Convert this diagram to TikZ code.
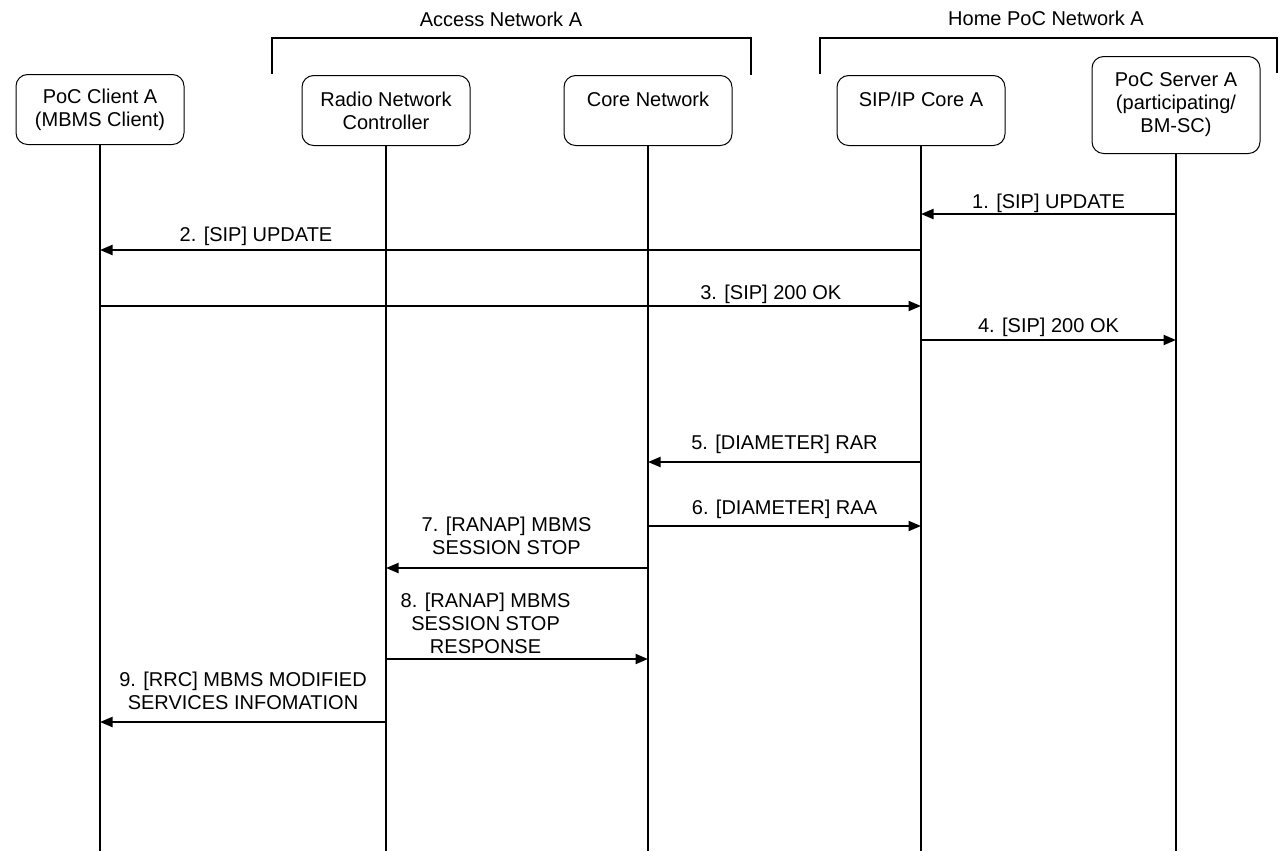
\documentclass[tikz,border=0pt]{standalone}
\usepackage{fontspec}
\setmainfont{Liberation Sans}
\usetikzlibrary{arrows.meta}
\begin{document}
\begin{tikzpicture}[x=0.6pt, y=-0.6pt, font=\fontsize{12pt}{13.8pt}\selectfont]
  \tikzstyle{entity}=[draw, rounded corners=7pt, line width=0.6pt, minimum width=100.8pt, minimum height=42pt, align=center, inner sep=2pt, anchor=north]
  \tikzstyle{life}=[line width=0.8pt]
  \tikzstyle{net}=[line width=0.8pt]
  \tikzstyle{msg}=[line width=1.2pt, -{Triangle[length=7.5pt, width=6pt]}]
  \tikzstyle{lbl}=[inner sep=0pt, align=center, text depth=0pt]

  \useasboundingbox (0,0) rectangle (1285,851);

  \node[entity] (ue)  at (100, 74) {PoC Client A\\(MBMS Client)};
  \node[entity] (rnc) at (386, 75) {Radio Network\\Controller};
  \node[entity] (cn)  at (648, 75) {Core Network\\\mbox{}};
  \node[entity] (sip) at (921, 75) {SIP/IP Core A\\\mbox{}};
  \node[entity, minimum height=58.2pt] (srv) at (1176, 56) {PoC Server A\\(participating/\\BM-SC)};

  \coordinate (bottom) at (0, 851);
  \draw[life] (ue)  -- (ue  |- bottom);
  \draw[life] (rnc) -- (rnc |- bottom);
  \draw[life] (cn)  -- (cn  |- bottom);
  \draw[life] (sip) -- (sip |- bottom);
  \draw[life] (srv) -- (srv |- bottom);

  \coordinate (acc1) at (272, 74);
  \coordinate (acc2) at (751, 75);
  \coordinate (home1) at (820, 74);
  \coordinate (home2) at (1277, 73);
  \draw[net] (acc1) -- ++(0,-36) -| (acc2);
  \draw[net] (home1) -- ++(0,-36) -| (home2);
  \node (acclbl)  at (501, 19)  {Access Network A};
  \node (homelbl) at (1046, 18) {Home PoC Network A};

  \coordinate (m1) at (0, 214);
  \coordinate (m2) at (0, 250);
  \coordinate (m3) at (0, 306);
  \coordinate (m4) at (0, 340);
  \coordinate (m5) at (0, 462);
  \coordinate (m6) at (0, 526);
  \coordinate (m7) at (0, 568);
  \coordinate (m8) at (0, 659);
  \coordinate (m9) at (0, 722);

  \draw[msg] (srv |- m1) -- node[lbl, above=3pt] {1. [SIP] UPDATE} (sip |- m1);
  \draw[msg] (sip |- m2) -- node[lbl, above=4.5pt, pos=0.81] {2. [SIP] UPDATE} (ue |- m2);
  \draw[msg] (ue |- m3) -- node[lbl, above=3.6pt, pos=0.817] {3. [SIP] 200 OK} (sip |- m3);
  \draw[msg] (sip |- m4) -- node[lbl, above=4.2pt] {4. [SIP] 200 OK} (srv |- m4);
  \draw[msg] (sip |- m5) -- node[lbl, above=7.2pt] {5. [DIAMETER] RAR} (cn |- m5);
  \draw[msg] (cn |- m6) -- node[lbl, above=6.6pt] {6. [DIAMETER] RAA} (sip |- m6);
  \draw[msg] (cn |- m7) -- node[lbl, above=7.8pt, pos=0.54] {7. [RANAP] MBMS\\SESSION STOP} (rnc |- m7);
  \draw[msg] (rnc |- m8) -- node[lbl, above=3pt, pos=0.38] {8. [RANAP] MBMS\\SESSION STOP\\RESPONSE} (cn |- m8);
  \draw[msg] (rnc |- m9) -- node[lbl, above=7.2pt] {9. [RRC] MBMS MODIFIED\\SERVICES INFOMATION} (ue |- m9);

\end{tikzpicture}
\end{document}
